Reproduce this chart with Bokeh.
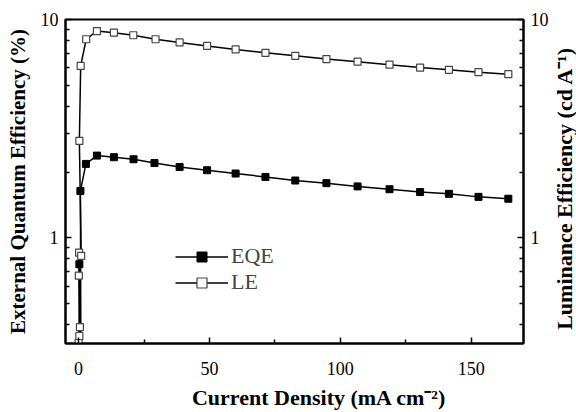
import math
from bokeh.plotting import figure
from bokeh.layouts import row
from bokeh.models import (LogAxis, Range1d, FixedTicker, Legend, LegendItem,
                          PrintfTickFormatter, ColumnDataSource)
from bokeh.core.properties import value
from bokeh.embed import file_html
from bokeh.resources import INLINE

# ---- data ----
eqe_x = [0.0, 0.3, 0.9, 0.7, 2.8, 7.0, 13.5, 21.0, 29.0, 38.6, 49.1, 60.0, 71.4,
         82.8, 94.7, 106.6, 118.8, 130.5, 141.5, 152.8, 164.2]
eqe_y = [0.15, 0.757, 0.2, 1.64, 2.18, 2.38, 2.34, 2.29, 2.20, 2.11, 2.04, 1.97, 1.90,
         1.83, 1.78, 1.72, 1.67, 1.62, 1.59, 1.54, 1.51]
le_x = [0.0, 0.3, 0.5, 0.1, 0.2, 1.0, 0.3, 0.8, 2.9, 7.0, 13.5, 20.9, 29.4, 38.6, 49.1,
        60.0, 71.4, 82.8, 94.7, 106.6, 118.8, 130.5, 141.5, 152.8, 164.2]
le_y = [0.33, 0.355, 0.39, 0.671, 0.855, 0.826, 2.78, 6.13, 8.12, 8.85, 8.7, 8.47, 8.12,
        7.85, 7.57, 7.29, 7.04, 6.82, 6.59, 6.41, 6.21, 6.02, 5.88, 5.74, 5.62]
x_ticks = [0, 50, 100, 150]
x_minor = [25, 75, 125]
y_ticks = [1, 10]
y_minor = [0.4, 0.5, 0.6, 0.7, 0.8, 0.9, 2, 3, 4, 5, 6, 7, 8, 9]
X_MIN, X_MAX = -5, 170
Y_MIN, Y_MAX = 0.328, 10
x_title = "Current Density (mA cm⁻²)"
y_title = "External Quantum Efficiency (%)"
y2_title = "Luminance Efficiency (cd A⁻¹)"

SERIF = "Liberation Serif"
TOP, BOTTOM = 19, 65

p = figure(width=552, height=412, y_axis_type="log",
           x_range=Range1d(X_MIN, X_MAX), y_range=Range1d(Y_MIN, Y_MAX),
           output_backend="svg", toolbar_location=None,
           min_border_left=65, min_border_right=29, min_border_top=TOP,
           min_border_bottom=BOTTOM)
p.extra_y_ranges = {"r": Range1d(Y_MIN, Y_MAX)}
p.grid.visible = False
p.outline_line_color = "black"
p.outline_line_width = 2
p.background_fill_color = "white"
p.border_fill_color = "white"

ra = LogAxis(y_range_name="r")
p.add_layout(ra, "right")

for ax in [p.xaxis[0], p.yaxis[0], ra]:
    ax.axis_line_width = 2
    ax.major_tick_line_width = 1.5
    ax.minor_tick_line_width = 1.5
    ax.major_tick_in = 6
    ax.major_tick_out = 0
    ax.minor_tick_in = 4
    ax.minor_tick_out = 0
    ax.major_label_text_font = SERIF
    ax.major_label_text_font_size = "18px"
    ax.major_label_text_color = "black"
    ax.axis_label_text_font = SERIF
    ax.axis_label_text_font_style = "bold"
    ax.axis_label_text_font_size = "21px"
    ax.axis_label_text_color = "black"

p.xaxis[0].ticker = FixedTicker(ticks=x_ticks, minor_ticks=x_minor)
# leading no-break spaces shift the centred title to the right, as in the reference
p.xaxis[0].axis_label = "\u00a0" * 9 + x_title
p.xaxis[0].axis_label_text_font_size = "22px"
p.xaxis[0].axis_label_standoff = 7
p.xaxis[0].major_label_standoff = 18

for ax in [p.yaxis[0], ra]:
    ax.ticker = FixedTicker(ticks=y_ticks, minor_ticks=y_minor)
    ax.formatter = PrintfTickFormatter(format="%d")
    ax.major_label_standoff = 7
p.yaxis[0].axis_label = y_title
p.yaxis[0].axis_label_standoff = 8

l1 = p.line(eqe_x, eqe_y, line_color="black", line_width=1.5)
m1 = p.scatter(eqe_x, eqe_y, marker="square", size=7, fill_color="black", line_color="black")
l2 = p.line(le_x, le_y, line_color="black", line_width=1.5)
m2 = p.scatter(le_x, le_y, marker="square", size=7, fill_color="white", line_color="#444444",
               line_width=1.2)

leg = Legend(items=[LegendItem(label="EQE", renderers=[l1, m1]),
                    LegendItem(label="LE", renderers=[l2, m2])],
             location=(110, 48), border_line_color=None, background_fill_alpha=0,
             padding=0, margin=0, spacing=0, glyph_width=53, glyph_height=25,
             label_height=25, label_standoff=3,
             label_text_font=SERIF, label_text_font_size="22px")
p.add_layout(leg)

# narrow strip on the right holding the right-hand axis title (reads bottom-to-top)
p2 = figure(width=24, height=412, x_range=Range1d(0, 1), y_range=Range1d(0, 1),
            output_backend="svg", toolbar_location=None,
            min_border_left=0, min_border_right=0, min_border_top=TOP,
            min_border_bottom=BOTTOM)
p2.axis.visible = False
p2.grid.visible = False
p2.outline_line_color = None
p2.background_fill_color = "white"
p2.border_fill_color = "white"
src = ColumnDataSource(dict(x=[0.5], y=[0.479], t=[y2_title]))
p2.text(x="x", y="y", text="t", source=src, angle=math.pi / 2,
        text_align="center", text_baseline="middle",
        text_font=value(SERIF), text_font_style="bold", text_font_size="22px",
        text_color="black")

layout = row(p, p2, spacing=0)
open("out.html", "w").write(file_html(layout, INLINE))
